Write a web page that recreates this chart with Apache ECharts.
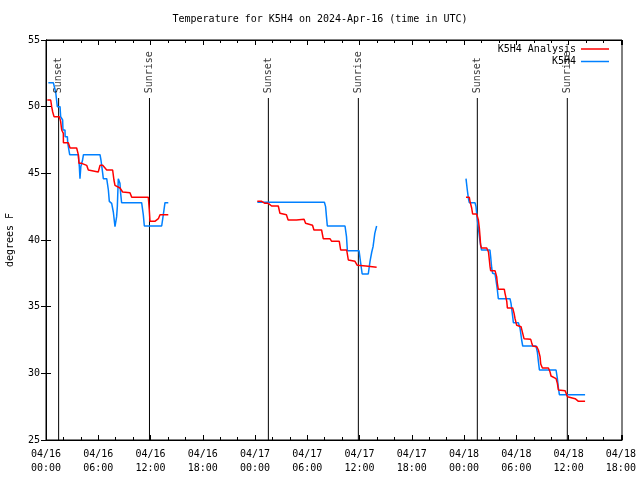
<!DOCTYPE html>
<html><head><meta charset="utf-8">
<script src="https://cdn.jsdelivr.net/npm/echarts@6/dist/echarts.min.js"></script>
<style>html,body{margin:0;padding:0;background:#fff}#c{width:640px;height:480px}</style>
</head><body><div id="c"></div>
<script>
const titleText = 'Temperature for K5H4 on 2024-Apr-16 (time in UTC)';
const xTickLabels = ['04/16\n00:00','04/16\n06:00','04/16\n12:00','04/16\n18:00','04/17\n00:00','04/17\n06:00','04/17\n12:00','04/17\n18:00','04/18\n00:00','04/18\n06:00','04/18\n12:00','04/18\n18:00'];
const sunHours = [1.45, 11.88, 25.53, 35.86, 49.52, 59.85];
const sunNames = ['Sunset','Sunrise','Sunset','Sunrise','Sunset','Sunrise'];

// hours since 04/16 00:00 UTC, degrees F
const analysis = [
[0.15,50.5],[0.54,50.5],[0.65,50.0],[0.77,49.6],[0.92,49.25],[1.53,49.25],[1.68,48.9],[1.8,48.25],[1.99,48.0],[2.0,47.3],[2.56,47.3],[2.76,46.9],[3.52,46.9],[3.71,46.4],[3.79,45.75],[4.1,45.75],[4.29,45.6],[4.67,45.6],[4.86,45.25],[5.05,45.1],[6.0,45.1],[6.2,45.6],[6.51,45.6],[6.58,45.5],[6.97,45.25],[7.65,45.25],[7.8,44.5],[7.92,44.1],[8.49,43.9],[8.8,43.6],[8.95,43.55],[9.64,43.55],[9.84,43.2],[11.75,43.2],[11.86,42.25],[11.94,41.4],[12.5,41.4],[12.9,41.6],[13.09,41.9],[14.04,41.9],
['-','-'],
[24.26,42.9],[24.76,42.9],[24.85,42.8],[25.14,42.75],[25.52,42.75],[25.9,42.55],[26.67,42.55],[26.86,42.0],[27.05,41.9],[27.6,41.9],[27.8,41.5],[28.76,41.5],[28.87,41.55],[29.63,41.55],[29.8,41.25],[30.0,41.1],[30.6,41.1],[30.76,40.75],[31.64,40.75],[31.83,40.1],[32.6,40.1],[32.8,39.9],[33.67,39.9],[33.83,39.25],[34.52,39.25],[34.71,38.5],[34.9,38.4],[35.47,38.4],[35.74,38.1],[35.85,38.05],[36.73,38.05],[36.9,37.95],[37.96,37.95],
['-','-'],
[48.22,43.2],[48.6,43.2],[48.68,42.9],[48.76,42.75],[48.87,42.4],[48.98,41.95],[49.44,41.95],[49.64,41.5],[49.75,40.9],[49.83,40.25],[49.9,39.6],[50.0,39.4],[50.6,39.4],[50.8,39.1],[50.9,38.5],[50.98,38.0],[51.05,37.7],[51.55,37.7],[51.74,37.25],[51.82,36.75],[51.93,36.3],[52.62,36.3],[52.7,36.0],[52.9,35.4],[52.97,34.9],[53.58,34.9],[53.74,34.5],[53.85,34.1],[54.04,33.6],[54.54,33.5],[54.73,33.0],[54.88,32.6],[55.65,32.55],[55.76,32.3],[55.88,32.05],[56.34,32.0],[56.53,31.75],[56.72,31.25],[56.8,30.7],[56.99,30.4],[57.68,30.4],[57.87,30.1],[57.98,29.8],[58.56,29.6],[58.71,29.25],[58.83,28.75],[59.6,28.7],[59.79,28.55],[59.87,28.25],[59.98,28.1],[60.75,28.1],[60.94,28.0],[61.13,27.9],[61.89,27.9]
];
const observed = [
[0.27,51.8],[0.84,51.8],[1.11,51.1],[1.3,50.0],[1.61,50.0],[1.68,49.25],[1.91,49.0],[1.95,48.25],[2.18,48.25],[2.2,47.75],[2.45,47.75],[2.5,47.25],[2.68,47.25],[2.72,46.4],[3.71,46.4],[3.83,45.5],[3.9,44.6],[4.0,45.5],[4.2,46.0],[4.3,46.4],[6.2,46.4],[6.31,46.0],[6.51,45.0],[6.58,44.6],[6.97,44.6],[7.16,43.75],[7.27,42.9],[7.54,42.75],[7.73,42.1],[7.92,41.0],[8.11,41.75],[8.19,42.5],[8.3,44.6],[8.49,44.25],[8.57,43.5],[8.68,42.8],[10.98,42.8],[11.17,41.9],[11.29,41.05],[13.28,41.05],[13.47,41.9],[13.66,42.8],[14.04,42.8],
['-','-'],
[24.26,42.83],[31.96,42.83],[32.1,42.5],[32.2,41.75],[32.3,41.05],[34.33,41.05],[34.5,40.25],[34.6,39.2],[35.94,39.2],[36.1,38.4],[36.3,37.45],[37.0,37.45],[37.2,38.4],[37.4,39.1],[37.55,39.5],[37.75,40.5],[37.96,41.05],
['-','-'],
[48.22,44.6],[48.37,43.75],[48.5,43.1],[48.6,42.8],[49.25,42.8],[49.37,42.5],[49.52,41.5],[49.64,40.9],[49.83,39.9],[50.0,39.25],[50.97,39.25],[51.05,38.75],[51.17,37.9],[51.28,37.5],[51.55,37.45],[51.66,37.0],[51.82,36.25],[51.93,35.6],[53.27,35.6],[53.39,35.25],[53.58,34.25],[53.66,33.8],[54.23,33.8],[54.42,33.4],[54.61,32.5],[54.73,32.05],[56.26,32.05],[56.41,31.6],[56.53,30.9],[56.65,30.25],[58.56,30.25],[58.71,29.6],[58.83,28.9],[58.94,28.4],[61.89,28.4]
];

const FONT = 'DejaVu Sans Mono';
const yMin = 25, yMax = 55, sunTop = 50.65, xMax = 66.13;

const sunLineData = [];
sunHours.forEach(h => { sunLineData.push([h, yMin], [h, sunTop], ['-','-']); });
const sunLabelData = sunHours.map((h, i) => ({ value: [h, sunTop + 0.35], name: sunNames[i] }));

const chart = echarts.init(document.getElementById('c'), null, { renderer: 'canvas' });
const tickStyle = { color: '#000', width: 1 };
chart.setOption({
  animation: false,
  backgroundColor: '#fff',
  textStyle: { fontFamily: FONT, fontSize: 10, color: '#000' },
  title: { text: titleText, left: 'center', top: 14, padding: 0,
    textStyle: { fontFamily: FONT, fontSize: 10, fontWeight: 'normal', color: '#000' } },
  legend: [
    { data: [{ name: 'K5H4 Analysis', icon: 'rect' }], right: 31, top: 44, padding: 0, itemWidth: 28, itemHeight: 1.5,
      textStyle: { fontFamily: FONT, fontSize: 10, color: '#000' }, align: 'right', selectedMode: false },
    { data: [{ name: 'K5H4', icon: 'rect' }], right: 31, top: 56.5, padding: 0, itemWidth: 28, itemHeight: 1.5,
      textStyle: { fontFamily: FONT, fontSize: 10, color: '#000' }, align: 'right', selectedMode: false }
  ],
  grid: { left: 46, right: 18, top: 40, bottom: 40, containLabel: false, outerBoundsMode: 'none',
    show: true, borderColor: '#000', borderWidth: 1, backgroundColor: 'transparent' },
  xAxis: [
    { type: 'value', min: 0, max: xMax, interval: 6, position: 'bottom',
      axisLine: { show: true, lineStyle: tickStyle },
      axisTick: { show: true, inside: true, length: 5, lineStyle: tickStyle },
      minorTick: { show: true, splitNumber: 3, length: 3, lineStyle: tickStyle },
      splitLine: { show: false },
      axisLabel: { margin: 7, lineHeight: 14, fontFamily: FONT, fontSize: 10, color: '#000',
        formatter: v => { const k = v / 6; return Math.abs(k - Math.round(k)) < 1e-6 ? (xTickLabels[Math.round(k)] || '') : ''; } } },
    { type: 'value', min: 0, max: xMax, interval: 6, position: 'top',
      axisLine: { show: true, lineStyle: tickStyle },
      axisTick: { show: true, inside: true, length: 5, lineStyle: tickStyle },
      minorTick: { show: true, splitNumber: 3, length: 3, lineStyle: tickStyle },
      splitLine: { show: false }, axisLabel: { show: false } }
  ],
  yAxis: [
    { type: 'value', min: yMin, max: yMax, interval: 5, position: 'left',
      name: 'degrees F', nameLocation: 'middle', nameGap: 31, nameRotate: 90,
      nameTextStyle: { fontFamily: FONT, fontSize: 10, color: '#000' },
      axisLine: { show: true, lineStyle: tickStyle },
      axisTick: { show: true, inside: true, length: 5, lineStyle: tickStyle },
      splitLine: { show: false },
      axisLabel: { margin: 6, fontFamily: FONT, fontSize: 10, color: '#000' } },
    { type: 'value', min: yMin, max: yMax, interval: 5, position: 'right',
      axisLine: { show: true, lineStyle: tickStyle },
      axisTick: { show: true, inside: true, length: 5, lineStyle: tickStyle },
      splitLine: { show: false }, axisLabel: { show: false } }
  ],
  series: [
    { name: 'sun', type: 'line', data: sunLineData, symbol: 'none', silent: true,
      lineStyle: { color: '#000', width: 1 }, connectNulls: false, z: 1 },
    { name: 'sunlabels', type: 'scatter', data: sunLabelData, symbolSize: 0, silent: true,
      label: { show: true, formatter: p => p.name, position: 'inside', rotate: 90, align: 'left', verticalAlign: 'middle',
        fontFamily: FONT, fontSize: 10, color: '#000', offset: [0, 0] } },
    { name: 'K5H4 Analysis', type: 'line', data: analysis, symbol: 'none', connectNulls: false,
      lineStyle: { color: '#ff0000', width: 1.5 }, itemStyle: { color: '#ff0000' }, z: 3 },
    { name: 'K5H4', type: 'line', data: observed, symbol: 'none', connectNulls: false,
      lineStyle: { color: '#0080ff', width: 1.5 }, itemStyle: { color: '#0080ff' }, z: 2 }
  ]
});
</script></body></html>
